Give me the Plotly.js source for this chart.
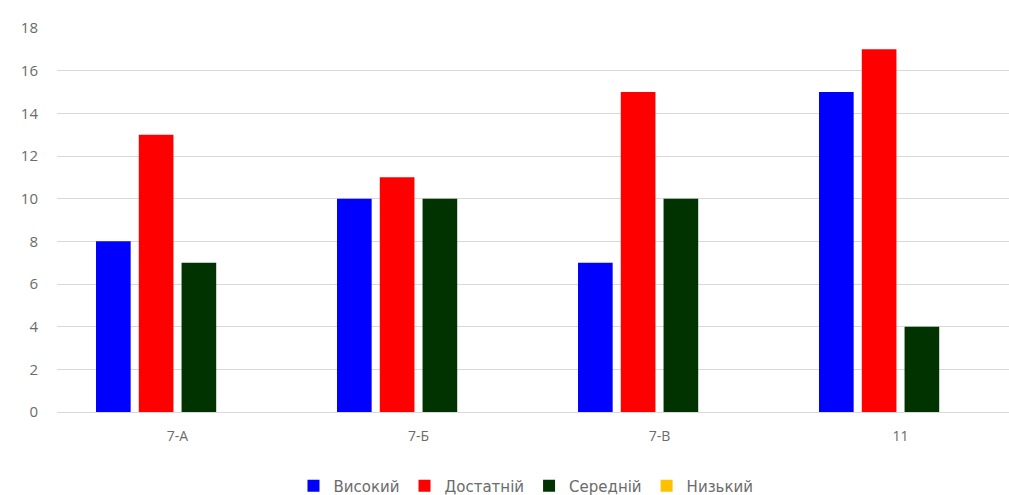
<!DOCTYPE html>
<html>
<head>
<meta charset="utf-8">
<script src="https://cdn.plot.ly/plotly-3.0.1.min.js"></script>
<style>
html,body{margin:0;padding:0;overflow:hidden;background:#fff;}
#chart{width:1030px;height:495px;}
</style>
</head>
<body>
<div id="chart"></div>
<script>
const categories = ["7-А", "7-Б", "7-В", "11"];
const seriesNames = ["Високий", "Достатній", "Середній", "Низький"];
const vysokyi = [8, 10, 7, 15];
const dostatnii = [13, 11, 15, 17];
const serednii = [7, 10, 10, 4];
const nyzkyi = [0, 0, 0, 0];
const colors = ["#0000FF", "#FF0000", "#003300", "#FFC000"];

const values = [vysokyi, dostatnii, serednii, nyzkyi];
const traces = values.map((v, i) => ({
  type: "bar",
  name: seriesNames[i],
  x: categories,
  y: v,
  marker: {color: colors[i]},
  hoverinfo: "x+y+name"
}));

const layout = {
  width: 1030,
  height: 495,
  margin: {l: 57, r: 9, t: 28, b: 83, autoexpand: false},
  paper_bgcolor: "#ffffff",
  plot_bgcolor: "#ffffff",
  barmode: "group",
  bargap: 0.29,
  bargroupgap: 0.19,
  font: {family: "'DejaVu Sans', sans-serif", color: "#595959", size: 14},
  xaxis: {
    showgrid: false,
    zeroline: false,
    showline: false,
    ticks: "",
    ticklabelstandoff: 14,
    tickfont: {size: 14, color: "#6b6b6b", family: "'Open Sans', sans-serif"}
  },
  yaxis: {
    range: [0, 18],
    dtick: 2,
    showgrid: true,
    gridcolor: "#d9d9d9",
    gridwidth: 1,
    zeroline: true,
    zerolinecolor: "#d9d9d9",
    showline: false,
    ticks: "",
    ticklabelstandoff: 18,
    tickfont: {size: 15, color: "#6b6b6b", family: "'Open Sans', sans-serif"}
  },
  legend: {
    orientation: "h",
    x: 0.4865,
    xanchor: "center",
    xref: "paper",
    yref: "paper",
    y: -0.193,
    yanchor: "middle",
    font: {size: 15, color: "#6b6b6b", family: "'DejaVu Sans', sans-serif"},
    itemwidth: 30,
    tracegroupgap: 0,
    traceorder: "normal"
  },
  showlegend: true
};

Plotly.newPlot("chart", traces, layout, {displayModeBar: false, staticPlot: true});
</script>
</body>
</html>
